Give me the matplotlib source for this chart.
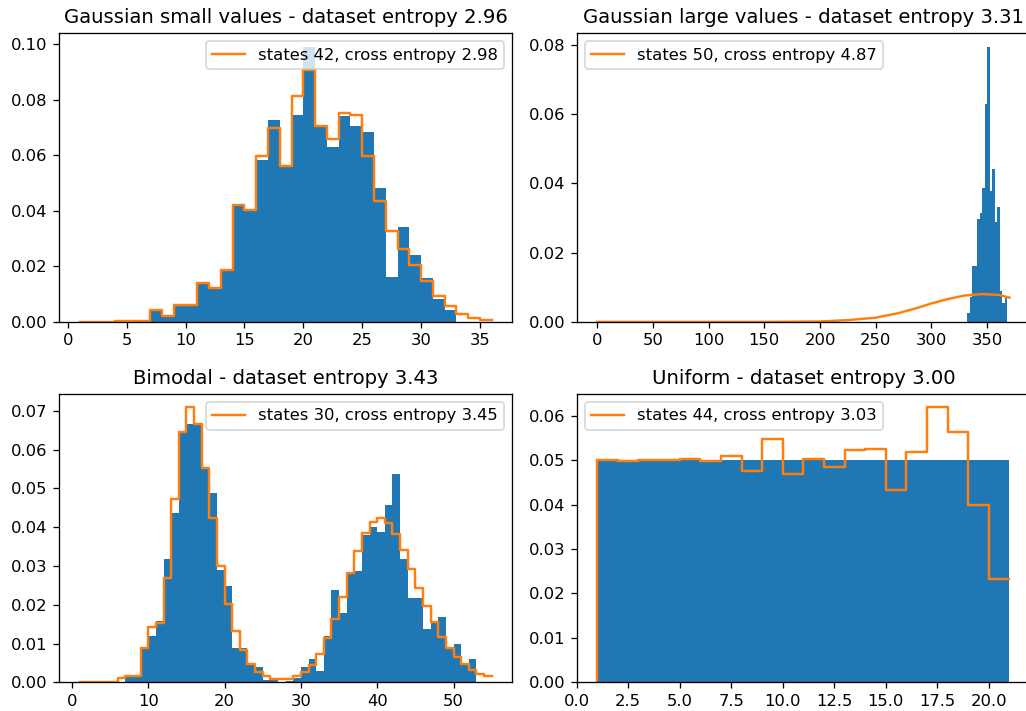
import matplotlib
matplotlib.use("Agg")
import matplotlib.pyplot as plt
import numpy as np

# --- Gaussian small values ---
small_bins = list(range(7, 33))
small_hist = [0.0038, 0.0018, 0.0060, 0.0060, 0.0140, 0.0122, 0.0185, 0.0420, 0.0403,
              0.0584, 0.0728, 0.0560, 0.0746, 0.0990, 0.0704, 0.0630, 0.0742, 0.0707,
              0.0683, 0.0483, 0.0161, 0.0343, 0.0242, 0.0158, 0.0083, 0.0041]
small_model = [0.0001, 0.0001, 0.0001, 0.0002, 0.0002, 0.0002, 0.0041, 0.0020, 0.0061,
               0.0061, 0.0140, 0.0122, 0.0185, 0.0420, 0.0403, 0.0598, 0.0698, 0.0560,
               0.0812, 0.0908, 0.0704, 0.0658, 0.0752, 0.0746, 0.0598, 0.0434, 0.0329,
               0.0264, 0.0205, 0.0146, 0.0092, 0.0056, 0.0030, 0.0014, 0.0006]

# --- Gaussian large values ---
large_edges = [332.0, 334.25, 336.5, 338.75, 341.0, 343.25, 345.5, 347.75, 350.0,
               352.25, 354.5, 356.75, 359.0, 361.25, 363.5, 365.75, 368.0]
large_hist = [0.0026, 0.0071, 0.0162, 0.0162, 0.0297, 0.0315, 0.0386, 0.0628,
              0.0793, 0.0378, 0.0441, 0.0289, 0.0332, 0.0090, 0.0053, 0.0068]
large_model_x = [0, 150, 200, 225, 250, 270, 285, 300, 315, 330, 345, 360, 370]
large_model_y = [0.0, 0.0, 0.0001, 0.0005, 0.0012, 0.0025, 0.0038, 0.0053, 0.0066,
                 0.0076, 0.0080, 0.0078, 0.0070]

# --- Bimodal ---
bi_bins = list(range(7, 53))
bi_hist = [0.0019, 0.0019, 0.0089, 0.0119, 0.0159, 0.0318, 0.0437, 0.0643, 0.0665,
           0.0665, 0.0553, 0.0487, 0.0290, 0.0248, 0.0089, 0.0089, 0.0049, 0.0040,
           0.0006, 0.0006, 0.0002, 0.0004, 0.0010, 0.0040, 0.0060, 0.0029, 0.0119,
           0.0238, 0.0180, 0.0283, 0.0287, 0.0380, 0.0401, 0.0388, 0.0457, 0.0537,
           0.0318, 0.0218, 0.0218, 0.0138, 0.0158, 0.0168, 0.0088, 0.0099, 0.0045,
           0.0061]
bi_model = [0.0001, 0.0001, 0.0001, 0.0001, 0.0001, 0.0010, 0.0016, 0.0015, 0.0089,
            0.0143, 0.0152, 0.0268, 0.0474, 0.0646, 0.0709, 0.0665, 0.0553, 0.0423,
            0.0301, 0.0202, 0.0132, 0.0083, 0.0046, 0.0027, 0.0016, 0.0009, 0.0008,
            0.0009, 0.0015, 0.0027, 0.0044, 0.0072, 0.0113, 0.0162, 0.0221, 0.0283,
            0.0338, 0.0386, 0.0414, 0.0423, 0.0410, 0.0382, 0.0341, 0.0292, 0.0242,
            0.0197, 0.0155, 0.0118, 0.0088, 0.0064, 0.0047, 0.0032, 0.0021, 0.0015]

# --- Uniform ---
uni_bins = list(range(1, 21))
uni_hist = [0.05] * 20
uni_model = [0.0500, 0.0499, 0.0500, 0.0501, 0.0502, 0.0499, 0.0509, 0.0476, 0.0549,
             0.0469, 0.0503, 0.0485, 0.0524, 0.0525, 0.0433, 0.0519, 0.0619, 0.0563,
             0.0400, 0.0233]

titles = ["Gaussian small values - dataset entropy 2.96",
          "Gaussian large values - dataset entropy 3.31",
          "Bimodal - dataset entropy 3.43",
          "Uniform - dataset entropy 3.00"]
labels = ["states 42, cross entropy 2.98",
          "states 50, cross entropy 4.87",
          "states 30, cross entropy 3.45",
          "states 44, cross entropy 3.03"]

DPI = 117.5


def model_step(ax, values, label):
    # step from x=1, starting at zero like the original
    x = np.arange(1, len(values) + 2)
    ax.step(x, [0] + values, where="pre", color="C1", label=label)


fig, axes = plt.subplots(2, 2, figsize=(1026 / DPI, 711 / DPI), dpi=DPI)
fig.subplots_adjust(left=0.0575, right=1.0039, top=0.9532, bottom=0.0404,
                    wspace=0.142, hspace=0.249)

ax = axes[0, 0]
ax.bar(small_bins, small_hist, width=1, align="edge", color="C0")
model_step(ax, small_model, labels[0])
ax.set_title(titles[0])
ax.legend(loc="upper right")

ax = axes[0, 1]
ax.bar(large_edges[:-1], large_hist, width=np.diff(large_edges), align="edge", color="C0")
ax.plot(large_model_x, large_model_y, color="C1", label=labels[1])
ax.set_title(titles[1])
ax.legend(loc="upper left")

ax = axes[1, 0]
ax.bar(bi_bins, bi_hist, width=1, align="edge", color="C0")
model_step(ax, bi_model, labels[2])
ax.set_title(titles[2])
ax.legend(loc="upper right")

ax = axes[1, 1]
ax.bar(uni_bins, uni_hist, width=1, align="edge", color="C0")
model_step(ax, uni_model, labels[3])
ax.set_title(titles[3])
ax.legend(loc="upper left")

fig.savefig("out.png", dpi=DPI)
